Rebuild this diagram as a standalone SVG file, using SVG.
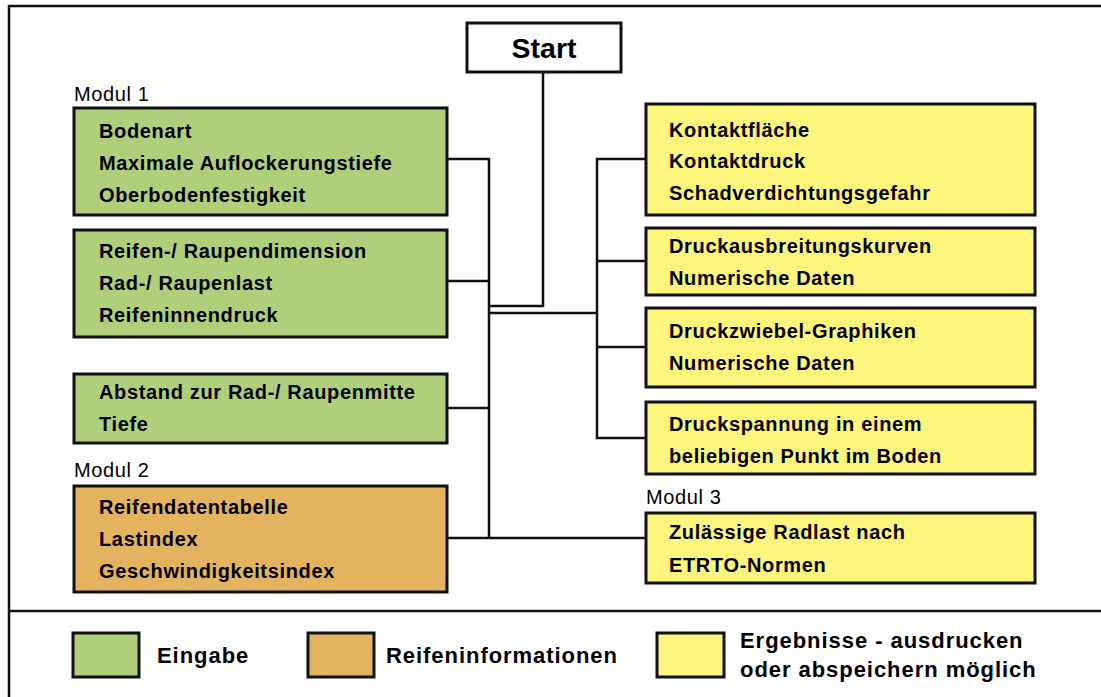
<svg xmlns="http://www.w3.org/2000/svg" width="1101" height="697" viewBox="0 0 1101 697">
<style>
.frame{fill:none;stroke:#111;stroke-width:2.5}
.box{stroke:#111;stroke-width:3}
.g{fill:#b0cf7a}
.o{fill:#e4b35f}
.y{fill:#fef67c}
.w{fill:#fff}
.t{font-family:"Liberation Sans",Arial,sans-serif;font-weight:bold;font-size:20px;letter-spacing:0.65px;fill:#000}
.m{font-family:"Liberation Sans",Arial,sans-serif;font-size:20px;letter-spacing:0.6px;fill:#000}
.lg{font-family:"Liberation Sans",Arial,sans-serif;font-weight:bold;font-size:22px;letter-spacing:0.95px;fill:#000}
.c{fill:none;stroke:#111;stroke-width:2.5}
</style>
<rect width="1101" height="697" fill="#fff"/>
<rect class="frame" x="9" y="6" width="1100" height="700"/>
<line class="frame" x1="9" y1="611" x2="1101" y2="611"/>

<g id="connectors">
<path class="c" d="M543,72 V306 H489"/>
<path class="c" d="M447,159 H489 V538"/>
<line class="c" x1="447" y1="281" x2="489" y2="281"/>
<line class="c" x1="447" y1="408" x2="489" y2="408"/>
<line class="c" x1="447" y1="538" x2="646" y2="538"/>
<path class="c" d="M489,313 H597"/>
<path class="c" d="M646,159 H597 V438 H646"/>
<line class="c" x1="597" y1="261" x2="646" y2="261"/>
<line class="c" x1="597" y1="347" x2="646" y2="347"/>
</g>

<g id="start">
<rect class="box w" x="467" y="23" width="154" height="49"/>
<text x="544" y="58" text-anchor="middle" style="font-family:'Liberation Sans',Arial,sans-serif;font-weight:bold;font-size:28.5px">Start</text>
</g>

<text class="m" x="74" y="101">Modul 1</text>
<text class="m" x="74" y="477">Modul 2</text>
<text class="m" x="646" y="504">Modul 3</text>

<g id="input1">
<rect class="box g" x="74" y="108" width="373" height="107"/>
<text class="t" x="99" y="138">Bodenart</text>
<text class="t" x="99" y="170">Maximale Auflockerungstiefe</text>
<text class="t" x="99" y="202">Oberbodenfestigkeit</text>
</g>
<g id="input2">
<rect class="box g" x="74" y="230" width="373" height="107"/>
<text class="t" x="99" y="258">Reifen-/ Raupendimension</text>
<text class="t" x="99" y="290">Rad-/ Raupenlast</text>
<text class="t" x="99" y="322">Reifeninnendruck</text>
</g>
<g id="input3">
<rect class="box g" x="74" y="374" width="373" height="69"/>
<text class="t" x="99" y="399">Abstand zur Rad-/ Raupenmitte</text>
<text class="t" x="99" y="431">Tiefe</text>
</g>
<g id="tyre">
<rect class="box o" x="74" y="486" width="373" height="106"/>
<text class="t" x="99" y="514">Reifendatentabelle</text>
<text class="t" x="99" y="546">Lastindex</text>
<text class="t" x="99" y="578">Geschwindigkeitsindex</text>
</g>

<g id="result1">
<rect class="box y" x="646" y="104" width="389" height="111"/>
<text class="t" x="669" y="137">Kontaktfläche</text>
<text class="t" x="669" y="168">Kontaktdruck</text>
<text class="t" x="669" y="200">Schadverdichtungsgefahr</text>
</g>
<g id="result2">
<rect class="box y" x="646" y="228" width="389" height="67"/>
<text class="t" x="669" y="253">Druckausbreitungskurven</text>
<text class="t" x="669" y="285">Numerische Daten</text>
</g>
<g id="result3">
<rect class="box y" x="646" y="308" width="389" height="79"/>
<text class="t" x="669" y="338">Druckzwiebel-Graphiken</text>
<text class="t" x="669" y="370">Numerische Daten</text>
</g>
<g id="result4">
<rect class="box y" x="646" y="402" width="389" height="72"/>
<text class="t" x="669" y="431">Druckspannung in einem</text>
<text class="t" x="669" y="463">beliebigen Punkt im Boden</text>
</g>
<g id="result5">
<rect class="box y" x="646" y="513" width="389" height="70"/>
<text class="t" x="669" y="539">Zulässige Radlast nach</text>
<text class="t" x="669" y="572">ETRTO-Normen</text>
</g>

<g id="legend">
<rect class="box g" x="73" y="633" width="66" height="44"/>
<text class="lg" x="157" y="663">Eingabe</text>
<rect class="box o" x="308" y="633" width="66" height="44"/>
<text class="lg" x="386" y="663">Reifeninformationen</text>
<rect class="box y" x="657" y="633" width="67" height="44"/>
<text class="lg" x="740" y="648">Ergebnisse - ausdrucken</text>
<text class="lg" x="740" y="677">oder abspeichern möglich</text>
</g>
</svg>
